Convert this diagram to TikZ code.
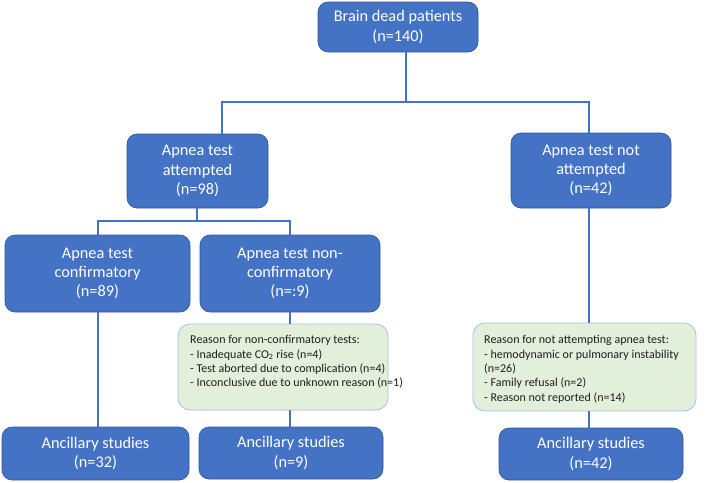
\documentclass[tikz,border=0pt]{standalone}
\usepackage{fontspec}
\setmainfont{Carlito}
\definecolor{boxblue}{HTML}{4472C4}
\definecolor{boxedge}{HTML}{2F5597}
\definecolor{notegreen}{HTML}{E2EFDA}
\definecolor{noteedge}{HTML}{A9BFE0}
\definecolor{notefg}{HTML}{1E1E1E}
\tikzset{
  bluebox/.style={draw=boxedge, line width=0.6pt, fill=boxblue, rounded corners=10pt,
    text=white, align=center, font=\fontsize{16.3}{19.3}\selectfont, inner sep=0pt},
  notebox/.style={draw=noteedge, fill=notegreen, rounded corners=12pt, line width=0.8pt, inner sep=0pt},
  notetext/.style={align=left, font=\fontsize{12}{14.3}\selectfont, inner sep=0pt,
    anchor=north west, text=notefg},
  link/.style={draw=boxblue, line width=2pt}
}
\begin{document}
\begin{tikzpicture}[x=1pt,y=-1pt]
\useasboundingbox (0,0) rectangle (709,482);
\fill[white] (0,0) rectangle (709,482);

% boxes
\node[bluebox, minimum width=160pt, minimum height=50pt] (top) at (398,27) {Brain dead patients\\(n=140)};
\node[bluebox, minimum width=141pt, minimum height=74pt] (att) at (197.5,171) {Apnea test\\attempted\\(n=98)};
\node[bluebox, minimum width=160pt, minimum height=75pt] (notatt) at (591,170.5) {Apnea test not\\attempted\\(n=42)};
\node[bluebox, minimum width=185pt, minimum height=77pt] (conf) at (97.5,273.5) {Apnea test\\confirmatory\\(n=89)};
\node[bluebox, minimum width=180pt, minimum height=77pt] (nonconf) at (290,273.5) {Apnea test non-\\confirmatory\\(n=:9)};
\node[notebox, minimum width=210pt, minimum height=86pt] (note1) at (283,367) {};
\node[notebox, minimum width=223pt, minimum height=88pt] (note2) at (584.5,367) {};
\node[notetext] (note1t) at (190,335.3) {Reason for non-confirmatory tests:\\- Inadequate CO\textsubscript{2} rise (n=4)\\- Test aborted due to complication (n=4)\\- Inconclusive due to unknown reason (n=1)};
\node[notetext] (note2t) at (484,335.3) {Reason for not attempting apnea test:\\- hemodynamic or pulmonary instability\\(n=26)\\- Family refusal (n=2)\\- Reason not reported (n=14)};
\node[bluebox, minimum width=187pt, minimum height=53pt] (anc1) at (95.5,453.5) {Ancillary studies\\(n=32)};
\node[bluebox, minimum width=184pt, minimum height=52pt] (anc2) at (291,453) {Ancillary studies\\(n=9)};
\node[bluebox, minimum width=184pt, minimum height=52pt] (anc3) at (591,454) {Ancillary studies\\(n=42)};

% junction coordinates
\coordinate (j1) at (406,102);
\coordinate (j2) at (222,102);
\coordinate (j3) at (589,102);
\coordinate (k1) at (197,221);
\coordinate (k2) at (98,221);
\coordinate (k3) at (290,221);

% connectors
\draw[link] (top.south -| j1) -- (j1);
\draw[link] (att.north -| j2) |- (j3) -- (notatt.north -| j3);
\draw[link] (att.south -| k1) -- (k1);
\draw[link] (conf.north -| k2) |- (k3) -- (nonconf.north -| k3);
\draw[link] (conf.south -| k2) -- (anc1.north -| k2);
\draw[link] (nonconf.south -| k3) -- (note1.north -| k3);
\draw[link] (note1.south -| k3) -- (anc2.north -| k3);
\draw[link] (notatt.south -| j3) -- (note2.north -| j3);
\draw[link] (note2.south -| j3) -- (anc3.north -| j3);
\end{tikzpicture}
\end{document}
